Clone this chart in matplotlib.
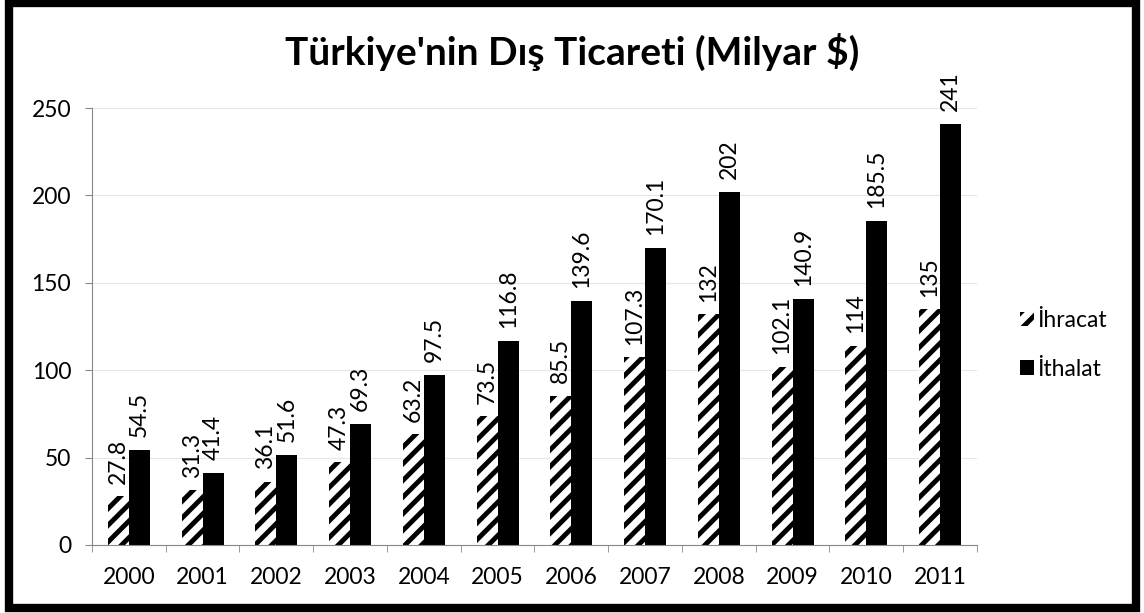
import matplotlib
matplotlib.use("Agg")
import matplotlib.pyplot as plt
import numpy as np
from matplotlib.patches import Rectangle

years = ['2000', '2001', '2002', '2003', '2004', '2005', '2006', '2007', '2008', '2009', '2010', '2011']
ihracat = [27.8, 31.3, 36.1, 47.3, 63.2, 73.5, 85.5, 107.3, 132, 102.1, 114, 135]
ithalat = [54.5, 41.4, 51.6, 69.3, 97.5, 116.8, 139.6, 170.1, 202, 140.9, 185.5, 241]

plt.rcParams['font.family'] = ['Lato', 'DejaVu Sans']
plt.rcParams['hatch.linewidth'] = 3.5

fig = plt.figure(figsize=(11.44, 6.13), dpi=100)
ax = fig.add_axes([0.0804, 0.111, 0.7736, 0.7128])

x = np.arange(len(years))
w = 0.285
b1 = ax.bar(x - w/2, ihracat, width=w, color='white', edgecolor='black', hatch='//',
            linewidth=0, label='İhracat')
b2 = ax.bar(x + w/2, ithalat, width=w, color='black', label='İthalat')

def fmt(v):
    return str(int(v)) if float(v).is_integer() else str(v)

for bars, vals in [(b1, ihracat), (b2, ithalat)]:
    for r, v in zip(bars, vals):
        ax.annotate(fmt(v), (r.get_x() + r.get_width() / 2, v), xytext=(0, 9),
                    textcoords='offset points', rotation=90, ha='center', va='bottom',
                    fontsize=16.5)

ax.set_xlim(-0.5, len(years) - 0.5)
ax.set_ylim(0, 250)
ax.set_yticks(range(0, 251, 50))
ax.set_xticks(x)
ax.set_xticklabels(years)
ax.set_xticks(np.arange(-0.5, len(years), 1), minor=True)
ax.tick_params(axis='x', which='major', length=0, pad=16, labelsize=16.5)
ax.tick_params(axis='x', which='minor', length=5, color='#888888', direction='out')
ax.tick_params(axis='y', length=5, color='#888888', labelsize=16.5, pad=10)
ax.grid(axis='y', color='#e6e6e6', linewidth=0.8)
ax.set_axisbelow(True)
for s in ['top', 'right']:
    ax.spines[s].set_visible(False)
for s in ['left', 'bottom']:
    ax.spines[s].set_color('#888888')

fig.text(0.5, 0.915, "Türkiye'nin Dış Ticareti (Milyar $)", ha='center', va='center',
         fontsize=28, fontweight='bold')

ax.legend(loc='center left', bbox_to_anchor=(1.049, 0.458), frameon=False, fontsize=16.5,
          handlelength=0.6, handleheight=0.6, handletextpad=0.15, labelspacing=1.2,
          borderpad=0, borderaxespad=0)

fig.patches.append(Rectangle((0.0079, 0.0082), 0.9855, 0.9869, transform=fig.transFigure,
                             fill=False, edgecolor='black', linewidth=6))

fig.savefig('out.png', dpi=100)
